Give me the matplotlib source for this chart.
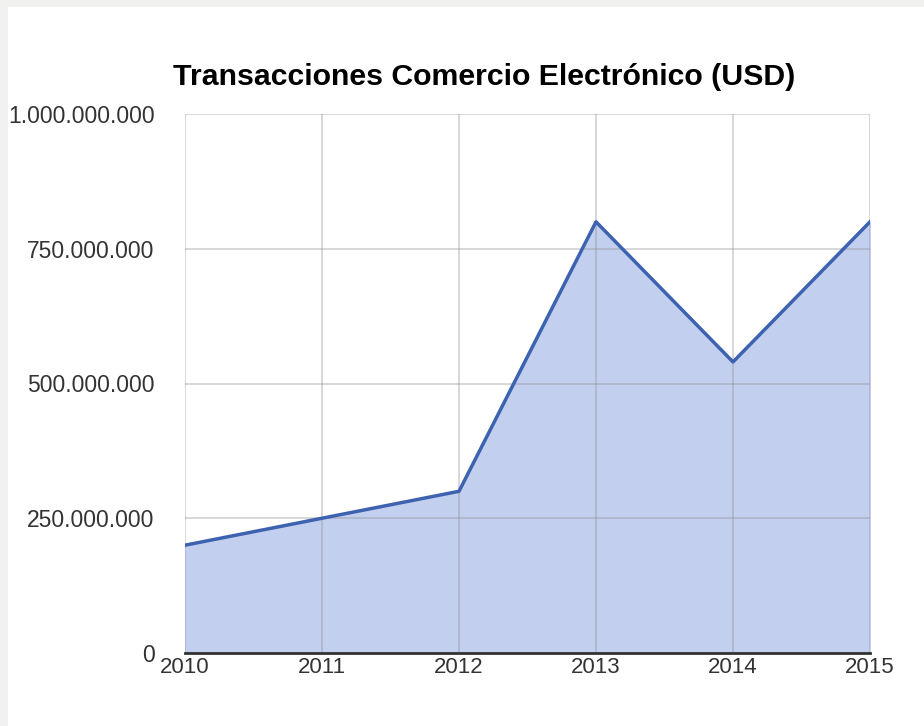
import numpy as np
import matplotlib.pyplot as plt
from matplotlib.patches import Rectangle

years = [2010, 2011, 2012, 2013, 2014, 2015]
valores = [200000000, 250000000, 300000000, 800000000, 540000000, 800000000]
yticks = [0, 250000000, 500000000, 750000000, 1000000000]
ylabels = ['0', '250.000.000', '500.000.000', '750.000.000', '1.000.000.000']

fuente = ['Liberation Sans', 'DejaVu Sans']

fig = plt.figure(figsize=(9.24, 7.26), dpi=100)
fig.patch.set_facecolor('#f1f1ef')
# panel blanco (el borde gris queda arriba y a la izquierda)
fig.patches.append(Rectangle((8 / 924, 0), 1, 1 - 7 / 726, transform=fig.transFigure,
                             facecolor='white', edgecolor='none', zorder=-5))

ax = fig.add_axes([185 / 924, 1 - 653 / 726, 685 / 924, 539 / 726])
ax.set_facecolor('none')

ax.fill_between(years, valores, 0, color='#c2cfee', zorder=1)
ax.plot(years, valores, color='#3d62b0', lw=2.5, zorder=3)

ax.set_xlim(2010, 2015)
ax.set_ylim(0, 1000000000)
ax.set_xticks(years)
ax.set_xticklabels([str(y) for y in years], family=fuente, fontsize=16, color='#333333')
ax.set_yticks(yticks)
ax.set_yticklabels(ylabels, family=fuente, fontsize=16.5, color='#333333')
ax.tick_params(length=0)
ax.tick_params(axis='x', pad=3)
ax.tick_params(axis='y', pad=22)

ax.grid(True, color='#8f8f8f', alpha=0.45, lw=1.1, zorder=2)
ax.set_axisbelow(False)
for s in ['top', 'right', 'left']:
    ax.spines[s].set_visible(False)
ax.spines['bottom'].set_color('#333333')
ax.spines['bottom'].set_linewidth(2)
ax.spines['bottom'].set_zorder(4)

fig.text(484 / 924, 1 - 77 / 726, 'Transacciones Comercio Electrónico (USD)',
         family=fuente, fontsize=21.8, fontweight='bold', ha='center', va='center', color='black')

fig.savefig('out.png', dpi=100)
